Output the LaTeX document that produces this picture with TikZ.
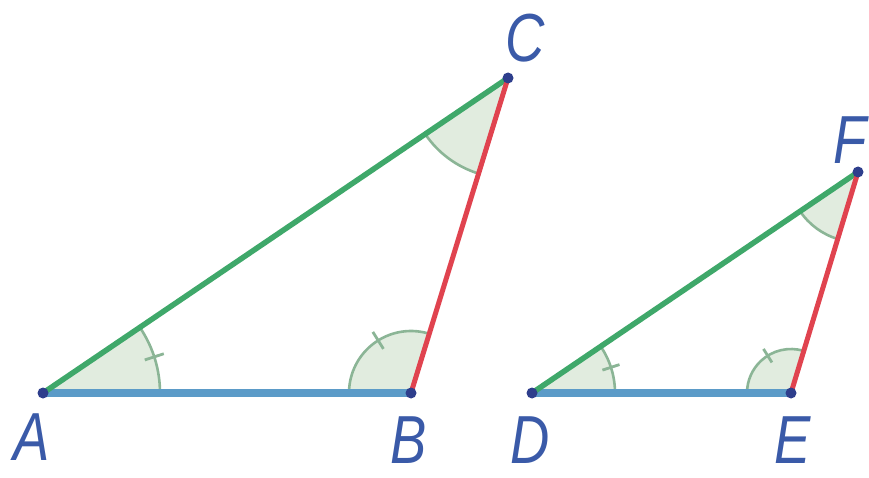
\documentclass[tikz,border=0pt]{standalone}
\usepackage{fontspec}
\usepackage{tikz}
\usetikzlibrary{angles}
\newfontfamily\lblfont{Liberation Sans}[FakeStretch=0.8]
\definecolor{sideblue}{HTML}{5B9BC8}
\definecolor{sidegreen}{HTML}{3FA86A}
\definecolor{sidered}{HTML}{E0434F}
\definecolor{angfill}{HTML}{E1ECDF}
\definecolor{angline}{HTML}{8BB596}
\definecolor{vtxblue}{HTML}{2E3E8C}
\definecolor{lblblue}{HTML}{3A5AA8}

\begin{document}
\begin{tikzpicture}[x=1pt,y=1pt,
  vtx/.style={circle,fill=vtxblue,inner sep=0pt,minimum size=11pt},
  lbl/.style={font=\lblfont\itshape\fontsize{68}{68}\selectfont,text=lblblue,inner sep=0pt},
  ang/.style={draw=angline,fill=angfill,line width=2.6pt},
  tick/.style={draw=angline,line width=2.8pt},
  base/.style={sideblue,line width=8pt},
  slant/.style={sidegreen,line width=5.5pt},
  steep/.style={sidered,line width=5pt}]

  \useasboundingbox (0,0) rectangle (869,477);

  % Triangle ABC
  \coordinate (A) at (43,84);
  \coordinate (B) at (411,84);
  \coordinate (C) at (508,399);

  % Triangle DEF
  \coordinate (D) at (532,84);
  \coordinate (E) at (791,84);
  \coordinate (F) at (858,305);

  % angle marks
  \pic[ang,angle radius=117pt] {angle=B--A--C};
  \pic[ang,angle radius=62pt] {angle=C--B--A};
  \pic[ang,angle radius=100pt] {angle=A--C--B};
  \pic[ang,angle radius=83pt] {angle=E--D--F};
  \pic[ang,angle radius=44pt] {angle=F--E--D};
  \pic[ang,angle radius=70pt] {angle=D--F--E};
  \draw[tick] ([shift={(18:107)}]A) -- ([shift={(18:127)}]A);
  \draw[tick] ([shift={(122:52)}]B) -- ([shift={(122:72)}]B);
  \draw[tick] ([shift={(18:74)}]D) -- ([shift={(18:92)}]D);
  \draw[tick] ([shift={(122:36)}]E) -- ([shift={(122:52)}]E);

  % sides
  \draw[base] (A) -- (B);
  \draw[slant] (A) -- (C);
  \draw[steep] (B) -- (C);
  \draw[base] (D) -- (E);
  \draw[slant] (D) -- (F);
  \draw[steep] (E) -- (F);

  % vertices and labels
  \foreach \v in {A,B,C,D,E,F}
    \node[vtx] (dot\v) at (\v) {};
  \node[lbl] (labA) at (32,40) {A};
  \node[lbl] (labB) at (409,37) {B};
  \node[lbl] (labC) at (525,439) {C};
  \node[lbl] (labD) at (530,37) {D};
  \node[lbl] (labE) at (793,37) {E};
  \node[lbl] (labF) at (850,337) {F};

\end{tikzpicture}
\end{document}
